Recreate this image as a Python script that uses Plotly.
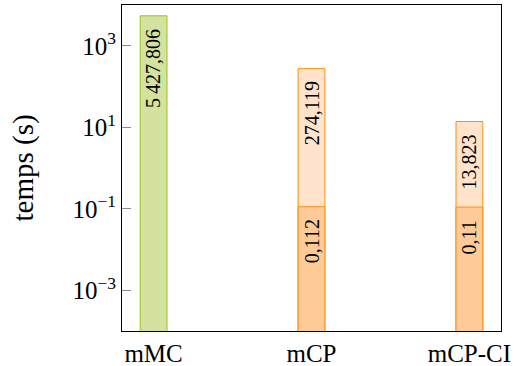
import math
import plotly.graph_objects as go

categories = ["mMC", "mCP", "mCP-CI"]
total_times = [5427.806, 274.119, 13.823]
total_labels = ["5\u2009427,806", "274,119", "13,823"]
base_cats = ["mCP", "mCP-CI"]
base_times = [0.112, 0.11]
base_labels = ["0,112", "0,11"]
tick_vals = [1e-3, 1e-1, 1e1, 1e3]
tick_text = ["10<sup>\u22123</sup>", "10<sup>\u22121</sup>", "10<sup>1</sup>", "10<sup>3</sup>"]

FONT = "Liberation Serif"
green_fill = "#d3e29e"
green_line = "#9ac31c"
orange_light = "#ffe4cb"
orange_dark = "#fecb98"
orange_line = "#ff8c10"

fill_total = [green_fill, orange_light, orange_light]
line_total = [green_line, orange_line, orange_line]

fig = go.Figure()
fig.add_trace(go.Bar(x=categories, y=total_times, width=0.17,
                     marker=dict(color=fill_total, line=dict(color=line_total, width=1)),
                     showlegend=False, hoverinfo="skip"))
fig.add_trace(go.Bar(x=base_cats, y=base_times, width=0.17,
                     marker=dict(color=orange_dark, line=dict(color=orange_line, width=1)),
                     showlegend=False, hoverinfo="skip"))

for c, v, t in list(zip(categories, total_times, total_labels)) + list(zip(base_cats, base_times, base_labels)):
    fig.add_annotation(x=c, y=math.log10(v), text=t, textangle=-90, showarrow=False,
                       xanchor="center", yanchor="top", yshift=-11,
                       font=dict(family=FONT, size=20, color="black"))

fig.update_layout(
    width=517, height=366,
    margin=dict(l=122, r=16, t=5, b=35),
    barmode="overlay",
    plot_bgcolor="white", paper_bgcolor="white",
    font=dict(family=FONT, color="black"),
)
fig.update_xaxes(range=[-0.2, 2.2], showline=True, linecolor="black", linewidth=1,
                 mirror=True, ticks="", showgrid=False, automargin=False,
                 tickfont=dict(family=FONT, size=25))
fig.update_yaxes(type="log", range=[-4, 4], showline=True, linecolor="black", linewidth=1,
                 mirror=True, ticks="inside", ticklen=9, tickcolor="#8a8a8a", tickwidth=1,
                 tickvals=tick_vals, ticktext=tick_text, showgrid=False, zeroline=False,
                 automargin=False,
                 tickfont=dict(family=FONT, size=25),
                 title=dict(text="temps (s)", font=dict(family=FONT, size=29), standoff=30))

fig.write_html("out.html", config={"displayModeBar": False},
               post_script="document.body.style.margin='0';")
